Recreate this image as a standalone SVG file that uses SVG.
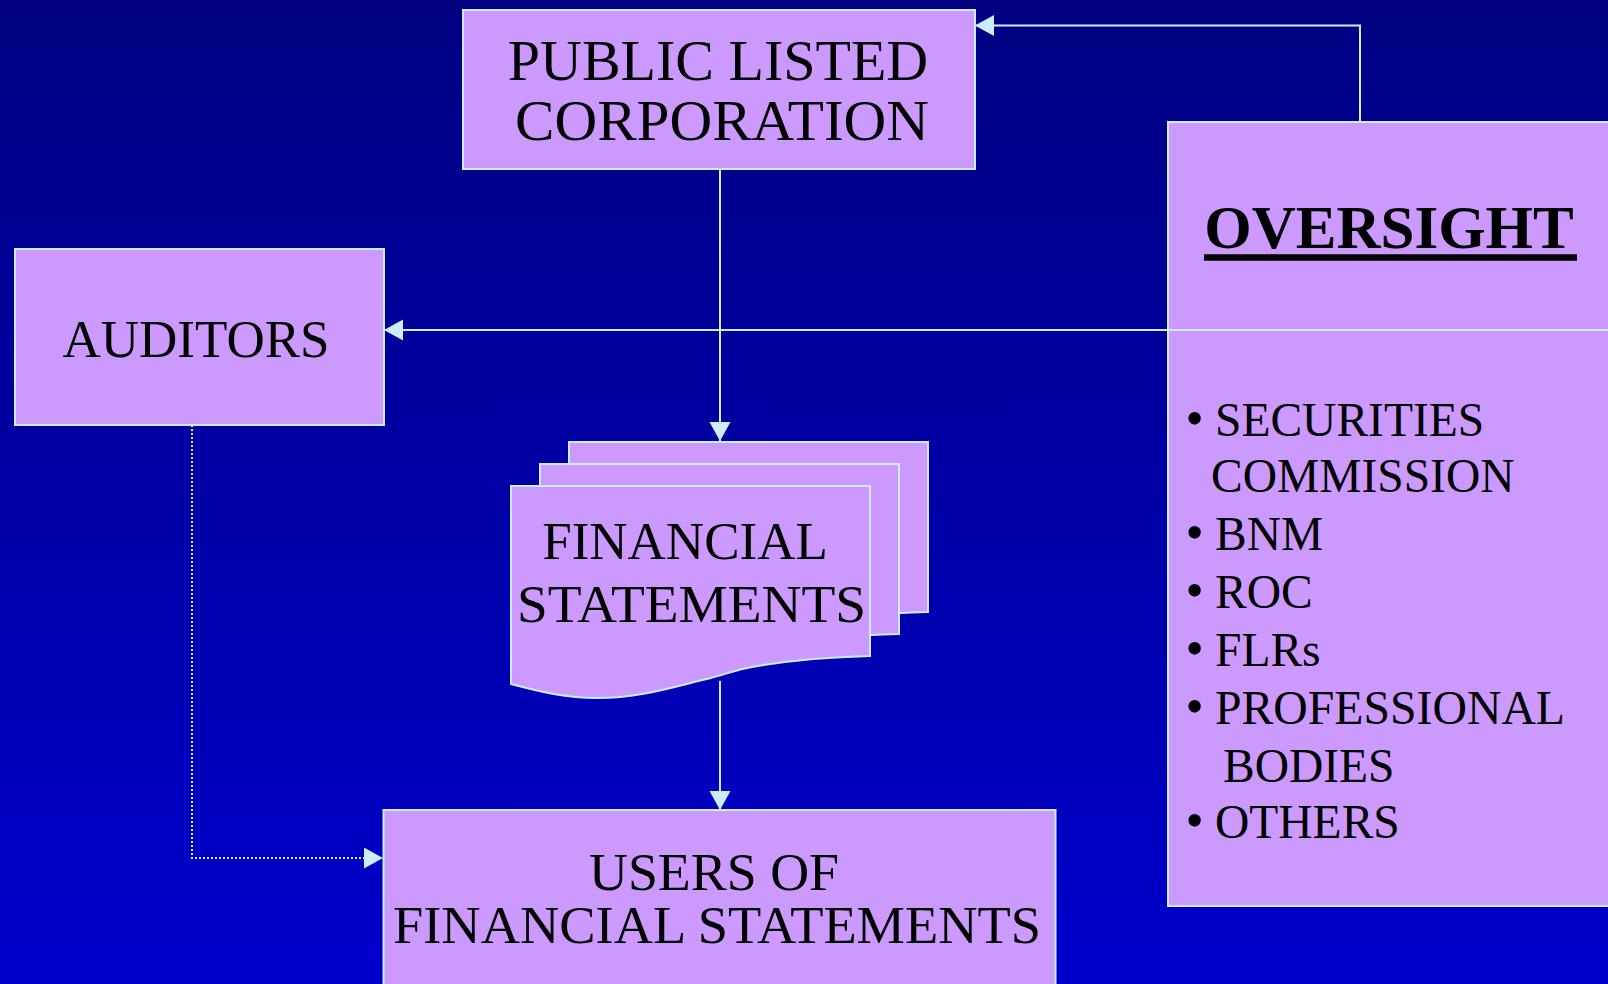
<svg xmlns="http://www.w3.org/2000/svg" width="1608" height="984" viewBox="0 0 1608 984">
  <defs>
    <linearGradient id="bg" x1="0" y1="0" x2="0" y2="1">
      <stop offset="0" stop-color="#000080"/>
      <stop offset="1" stop-color="#0000CC"/>
    </linearGradient>
    <marker id="arrow" markerUnits="userSpaceOnUse" markerWidth="20" markerHeight="22" refX="19" refY="10.5" orient="auto">
      <path d="M0,0 L19,10.5 L0,21 Z" fill="#CCECFF"/>
    </marker>
    <!-- one page of the multi-document stack -->
    <path id="page" d="M0,0 H359 V170 C320,171 280,174 241,181 C228,183 215,188 200,192 C165,200 130,212 86,212 C55,212 30,206 0,198 Z"/>
    <style>
      .box { fill: #CC99FF; stroke: #CCECFF; stroke-width: 2; }
      .lbl { font-family: "Liberation Serif", "Times New Roman", serif; fill: #000000; }
      .c53 { font-size: 53px; text-anchor: middle; }
      .item { font-size: 47.5px; }
      .dot { font-size: 52px; text-anchor: middle; }
      .conn { fill: none; stroke: #CCECFF; stroke-width: 2; }
    </style>
  </defs>

  <rect x="0" y="0" width="1608" height="984" fill="url(#bg)"/>

  <g id="public-listed-corporation">
    <rect class="box" x="463" y="10" width="512" height="159"/>
    <text class="lbl" font-size="58" text-anchor="middle" x="718" y="80">PUBLIC LISTED</text>
    <text class="lbl" font-size="58" text-anchor="middle" x="722" y="140" textLength="414" lengthAdjust="spacingAndGlyphs">CORPORATION</text>
  </g>

  <g id="auditors">
    <rect class="box" x="15" y="249" width="369" height="176"/>
    <text class="lbl c53" x="196" y="357">AUDITORS</text>
  </g>

  <g id="financial-statements">
    <use href="#page" class="box" x="569" y="442"/>
    <use href="#page" class="box" x="540" y="464"/>
    <use href="#page" class="box" x="511" y="486"/>
    <text class="lbl c53" x="685" y="559">FINANCIAL</text>
    <text class="lbl c53" x="691.5" y="622" textLength="349" lengthAdjust="spacingAndGlyphs">STATEMENTS</text>
  </g>

  <g id="users-of-financial-statements">
    <rect class="box" x="383.5" y="810" width="672" height="190"/>
    <text class="lbl c53" x="714" y="890" textLength="250" lengthAdjust="spacingAndGlyphs">USERS OF</text>
    <text class="lbl c53" x="717" y="943" textLength="648" lengthAdjust="spacingAndGlyphs">FINANCIAL STATEMENTS</text>
  </g>

  <g id="oversight">
    <rect class="box" x="1168" y="122" width="460" height="784"/>
    <text class="lbl" font-size="61" font-weight="bold" text-anchor="middle" x="1389" y="248">OVERSIGHT</text>
    <line x1="1204" y1="257.5" x2="1577" y2="257.5" stroke="#000000" stroke-width="6.5"/>
    <g class="lbl item">
      <text class="dot" x="1194.5" y="436">•</text>
      <text x="1215" y="436">SECURITIES</text>
      <text x="1211" y="492">COMMISSION</text>
      <text class="dot" x="1194.5" y="549.5">•</text>
      <text x="1215" y="549.5">BNM</text>
      <text class="dot" x="1194.5" y="607.5">•</text>
      <text x="1215" y="607.5">ROC</text>
      <text class="dot" x="1194.5" y="666">•</text>
      <text x="1215" y="666">FLRs</text>
      <text class="dot" x="1194.5" y="724">•</text>
      <text x="1215" y="724" textLength="350" lengthAdjust="spacingAndGlyphs">PROFESSIONAL</text>
      <text x="1223" y="781.5">BODIES</text>
      <text class="dot" x="1194.5" y="838">•</text>
      <text x="1215" y="838">OTHERS</text>
    </g>
  </g>

  <g id="connectors">
    <path class="conn" d="M720,169 V441" marker-end="url(#arrow)"/>
    <path class="conn" d="M720,681 V810" marker-end="url(#arrow)"/>
    <path class="conn" d="M1360,122 V25.5 H975" marker-end="url(#arrow)"/>
    <path class="conn" d="M1608,330 H384" marker-end="url(#arrow)"/>
    <path class="conn" d="M192,425 V858 H383" stroke-dasharray="2 2" marker-end="url(#arrow)"/>
  </g>
</svg>
